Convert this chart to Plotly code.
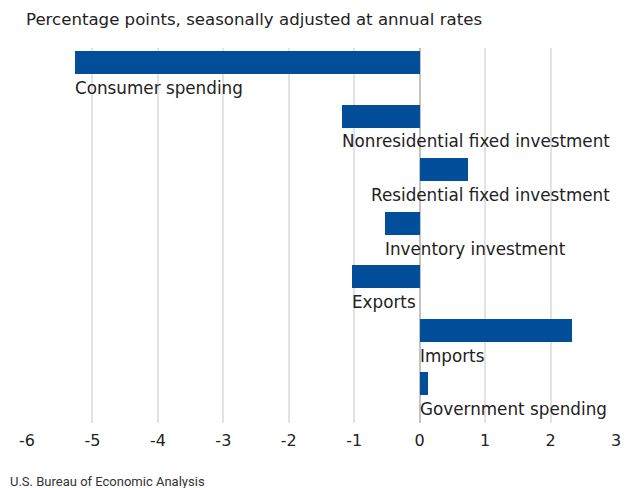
import plotly.graph_objects as go

categories = ["Consumer spending", "Nonresidential fixed investment", "Residential fixed investment",
              "Inventory investment", "Exports", "Imports", "Government spending"]
values = [-5.26, -1.18, 0.74, -0.53, -1.03, 2.32, 0.13]
tick_vals = [-6, -5, -4, -3, -2, -1, 0, 1, 2, 3]
tick_text = ["-6", "-5", "-4", "-3", "-2", "-1", "0", "1", "2", "3"]

BAR = "#034e9a"
FONT = "DejaVu Sans"
TXT = "#222"
LBL = 16.8

# page body has an 8px margin, so the figure is sized to fit the window
W, H = 622, 480

fig = go.Figure()
fig.add_trace(go.Bar(
    x=values, y=categories, orientation="h",
    marker=dict(color=BAR, line=dict(width=0)),
    width=0.43, offset=-0.445, hoverinfo="x+y",
))

for c, v in zip(categories, values):
    if c == "Residential fixed investment":
        fig.add_annotation(x=3, y=c, xref="x", yref="y", text=c, showarrow=False,
                           xanchor="right", yanchor="top", xshift=-4, yshift=-1,
                           font=dict(family=FONT, size=LBL, color=TXT))
    else:
        fig.add_annotation(x=min(0, v), y=c, xref="x", yref="y", text=c, showarrow=False,
                           xanchor="left", yanchor="top", xshift=-2, yshift=-1,
                           font=dict(family=FONT, size=LBL, color=TXT))

fig.add_annotation(x=0, y=1.075, xref="paper", yref="paper", xanchor="left", yanchor="middle",
                   text="Percentage points, seasonally adjusted at annual rates", showarrow=False,
                   xshift=-3, font=dict(family=FONT, size=16.6, color=TXT))
fig.add_annotation(x=-0.025, y=-0.155, xref="paper", yref="paper", xanchor="left", yanchor="middle",
                   text="U.S. Bureau of Economic Analysis", showarrow=False, xshift=-4,
                   font=dict(family="Roboto", size=13, color="#333"))

fig.update_layout(
    width=W, height=H,
    margin=dict(l=19, r=9, t=40, b=65),
    plot_bgcolor="white", paper_bgcolor="white",
    showlegend=False, bargap=0,
    font=dict(family=FONT, size=16, color=TXT),
)
fig.update_xaxes(range=[-6, 3], tickvals=tick_vals, ticktext=tick_text,
                 showgrid=True, gridcolor="#e3e3e3", gridwidth=2,
                 zeroline=True, zerolinecolor="#c4c4c4", zerolinewidth=2,
                 ticks="", showline=False, ticklabelstandoff=6,
                 tickfont=dict(family=FONT, size=16, color=TXT))
fig.update_yaxes(autorange="reversed", showticklabels=False, showgrid=False,
                 zeroline=False, showline=False, ticks="")

fig.write_html("out.html")
